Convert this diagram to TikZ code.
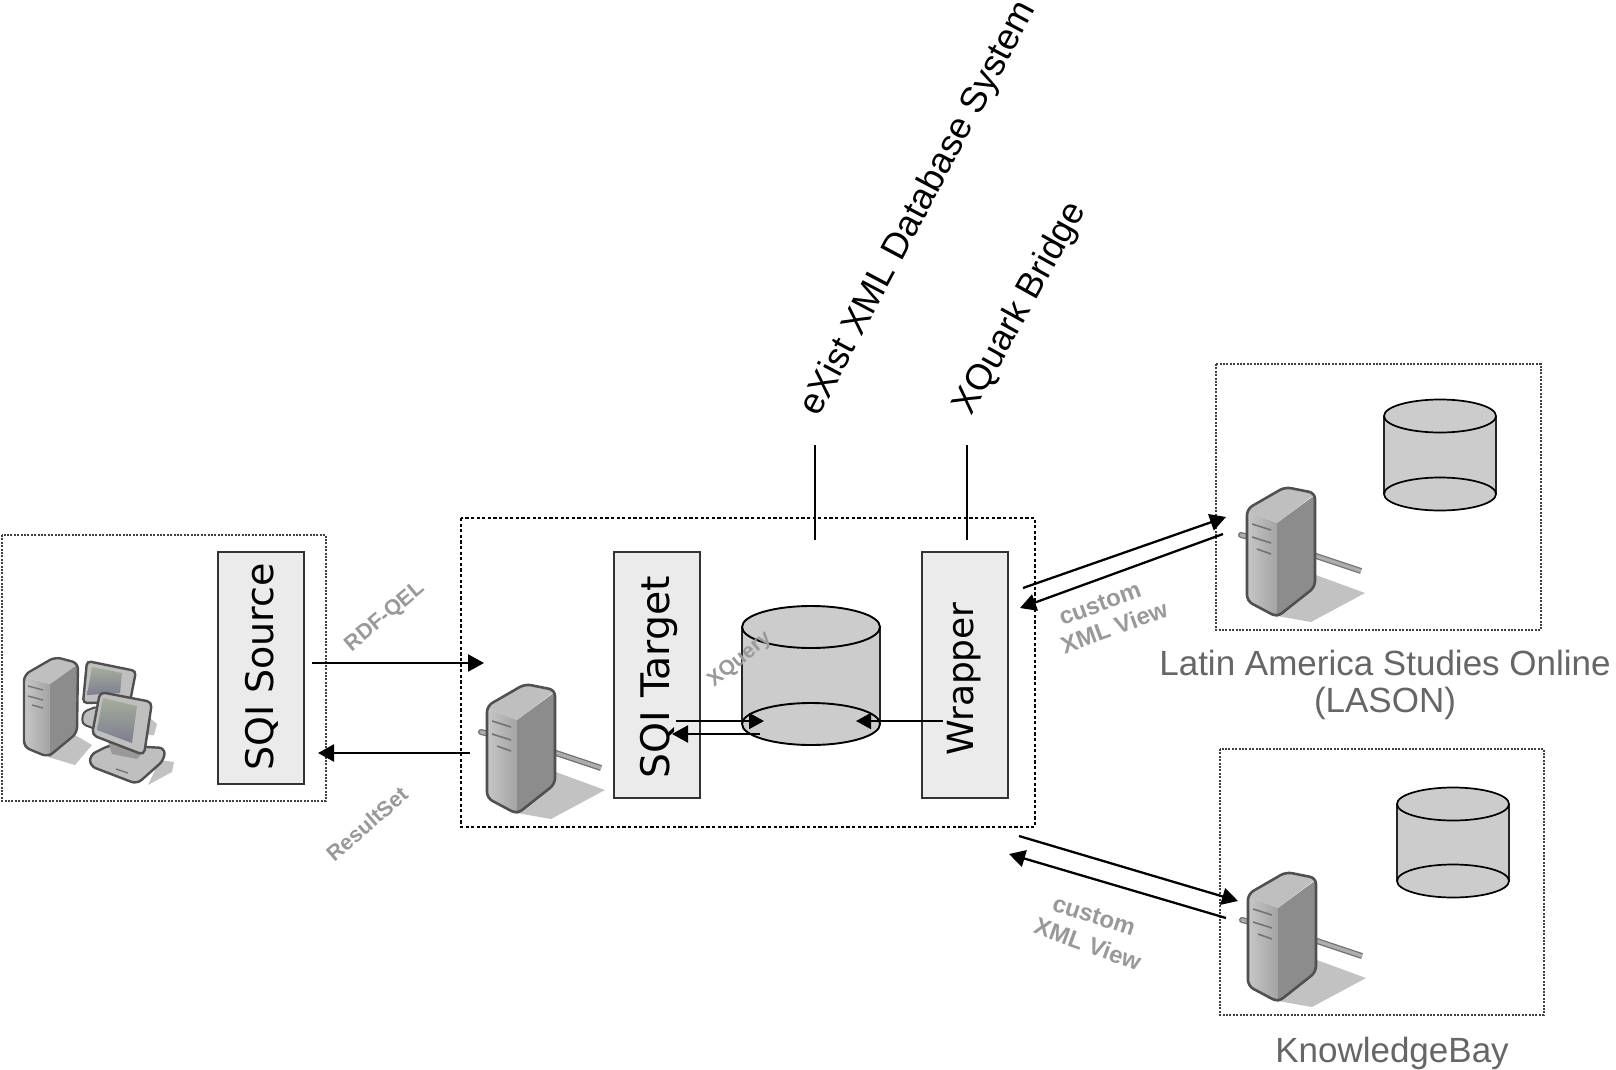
\documentclass[tikz,border=0pt]{standalone}
\usepackage{fontspec}
\setmainfont{Liberation Sans}
\newfontfamily\boxfont{DejaVu Sans}
\usetikzlibrary{arrows.meta}
\definecolor{panelfill}{HTML}{EBEBEB}
\definecolor{cylfill}{HTML}{CCCCCC}
\definecolor{edgegray}{HTML}{505050}
\definecolor{labelgray}{HTML}{999999}
\definecolor{captiongray}{HTML}{666666}
\definecolor{shadowgray}{HTML}{C2C2C2}
\definecolor{screendark}{HTML}{7E7E90}
\definecolor{screenlight}{HTML}{A5AD9C}
\tikzset{
  x=0.5pt,y=-0.5pt,
  thinzone/.style={draw=black!75,line width=0.75pt,dash pattern=on 1pt off 0.7pt},
  boldzone/.style={draw=black,line width=1.1pt,dash pattern=on 1.6pt off 1.2pt},
  panel/.style={draw=black!80,line width=1.3pt,fill=panelfill,inner sep=0pt},
  paneltext/.style={font=\boxfont\fontsize{19}{20}\selectfont,rotate=90,inner sep=0pt},
  flow/.style={draw=black,line width=1.15pt,-{Triangle[length=8pt,width=8.5pt]}},
  flowthin/.style={draw=black,line width=0.9pt,-{Triangle[length=7.5pt,width=8pt]}},
  stem/.style={draw=black,line width=1.35pt},
  tag/.style={font=\bfseries\fontsize{10.8}{12}\selectfont,text=labelgray,inner sep=0pt},
  viewtag/.style={tag,font=\bfseries\fontsize{12}{12}\selectfont},
  vtag/.style={font=\fontsize{18.2}{20}\selectfont,inner sep=0pt},
  caption/.style={font=\fontsize{17.5}{20}\selectfont,text=captiongray,inner sep=0pt},
  serverpic/.pic={
    \fill[shadowgray] (66,65) -- (118,84) -- (64,113) -- (30,107) -- cycle;
    \draw[line width=3pt,draw=edgegray!80] (66,46) -- (114,62);
    \draw[line width=1.7pt,draw=black!32] (66,46) -- (114,62);
    \draw[line width=3pt,draw=edgegray!80,line cap=round] (-6,26) -- (2,28);
    \draw[line width=1.7pt,draw=black!32,line cap=round] (-6,26) -- (2,28);
    \path[left color=black!22,right color=black!36] (0,2) -- (30,14) -- (30,108) -- (0,92) -- cycle;
    \path[fill=black!45] (30,14) -- (68,-14) -- (68,78) -- (30,108) -- cycle;
    \path[fill=black!25] (0,2) -- (38,-21) -- (68,-15) -- (30,14) -- cycle;
    \draw[edgegray,line width=1.3pt,rounded corners=3pt,line join=round]
      (0,0) -- (38,-22) -- (68,-16) -- (68,78) -- (30,108) -- (0,92) -- cycle;
    \draw[black!55,line width=0.8pt] (5,15) -- (24,21) (5,28) -- (24,34) (10,40) -- (24,45);
  },
}
\newcommand{\cylshape}[6]{% cx, top y, bottom y, rx, ry, line width
  \fill[cylfill] (#1-#4,#2) rectangle (#1+#4,#3);
  \draw[black!85,line width=0.8pt] (#1-#4,#2) -- (#1-#4,#3) (#1+#4,#2) -- (#1+#4,#3);
  \draw[black,fill=cylfill,line width=#6] (#1,#2) ellipse[x radius=#4,y radius=#5];
  \draw[black,fill=cylfill,line width=#6] (#1,#3) ellipse[x radius=#4,y radius=#5];
}
\begin{document}
\begin{tikzpicture}
\useasboundingbox (0,0) rectangle (1616,1070);
\fill[white] (0,0) rectangle (1616,1070);

% zones
\path[thinzone] (2,535) rectangle (326,801);
\path[boldzone] (461,518) rectangle (1035,827);
\path[thinzone] (1216,364) rectangle (1541,630);
\path[thinzone] (1220,749) rectangle (1544,1015);

% client computers
\fill[shadowgray] (75,735) -- (92,745) -- (75,765) -- (48,757) -- cycle;
\fill[shadowgray] (160,760) -- (174,762) -- (172,772) -- (148,785) -- cycle;
\fill[shadowgray] (150,718) -- (157,724) -- (154,735) -- (145,735) -- cycle;
\path[left color=black!22,right color=black!36] (24,677) -- (50,684) -- (50,757) -- (24,747) -- cycle;
\fill[black!45] (50,684) -- (78,664) -- (77,733) -- (50,757) -- cycle;
\fill[black!25] (24,677) -- (55,658) -- (78,664) -- (50,684) -- cycle;
\draw[edgegray,line width=1.2pt,rounded corners=3pt,line join=round]
  (24,675) -- (55,657) -- (78,663) -- (77,733) -- (48,757) -- (24,747) -- cycle;
\draw[black!55,line width=0.7pt] (28,686) -- (43,690) (28,696) -- (43,700) (32,705) -- (43,708);
% rear monitor
\draw[edgegray,fill=black!25,line width=1pt,rounded corners=2pt] (83,712) -- (98,706) -- (98,730) -- (82,724) -- cycle;
\draw[edgegray,fill=black!25,line width=1.2pt,rounded corners=2pt] (87,661) -- (136,671) -- (130,702) -- (83,703) -- cycle;
\path[top color=screenlight,bottom color=screendark] (92,667) -- (122,673) -- (120,693) -- (87,695) -- cycle;
% front monitor
\draw[edgegray,fill=black!25,line width=1.2pt,rounded corners=3pt] (90,755) -- (110,745) -- (165,748) -- (164,760) -- (137,784) -- (90,766) -- cycle;
\fill[black!40] (108,741) -- (143,752) -- (137,759) -- (112,754) -- cycle;
\draw[edgegray,fill=black!25,line width=1.2pt,rounded corners=2.5pt] (100,692) -- (152,702) -- (144,755) -- (92,735) -- cycle;
\path[top color=screenlight,bottom color=screendark] (103,698) -- (137,706) -- (132,743) -- (97,730) -- cycle;
\draw[black!55,line width=0.7pt] (116,769) -- (128,773);

% servers
\pic at (487,706) {serverpic};
\pic at (1247,509) {serverpic};
\pic at (1248,894) {serverpic};

% databases
\cylshape{811}{627}{724}{69}{21}{0.95pt}
\cylshape{1440}{416}{494}{56}{16.5}{0.85pt}
\cylshape{1453}{804}{881}{56}{16.5}{0.85pt}

% panels
\node[panel,minimum width=43pt,minimum height=116pt] (source) at (261,668) {};
\node[paneltext] (sourcetext) at (262,667) {SQI Source};
\node[panel,minimum width=43pt,minimum height=123pt] (target) at (657,675) {};
\node[paneltext,font=\boxfont\fontsize{19.7}{22}\selectfont] (targettext) at (659,677) {SQI Target};
\node[panel,minimum width=43pt,minimum height=123pt] (wrapper) at (965,675) {};
\node[paneltext,font=\boxfont\fontsize{18}{20}\selectfont] (wrappertext) at (964,679) {Wrapper};

% vertical stems
\coordinate (existend) at (815,445);
\coordinate (existbox) at (815,540);
\coordinate (xquarkend) at (967,445);
\coordinate (xquarkbox) at (967,540);
\draw[stem] (existend) -- (existbox);
\draw[stem] (xquarkend) -- (xquarkbox);

% connector ends
\coordinate (rdfa) at (312,663);
\coordinate (rdfb) at (484,663);
\coordinate (resa) at (470,753);
\coordinate (resb) at (318,753);
\coordinate (qa) at (676,721);
\coordinate (qb) at (764,721);
\coordinate (wa) at (943,721);
\coordinate (wb) at (856,721);
\coordinate (ra) at (760,734);
\coordinate (rb) at (672,734);
\coordinate (la) at (1023,588);
\coordinate (lb) at (1226,517);
\coordinate (lc) at (1223,534);
\coordinate (ld) at (1020,608);
\coordinate (ka) at (1019,836);
\coordinate (kb) at (1238,901);
\coordinate (kc) at (1226,918);
\coordinate (kd) at (1009,854);
\draw[flow] (rdfa) -- (rdfb);
\draw[flow] (resa) -- (resb);
\draw[flowthin] (qa) -- (qb);
\draw[flowthin] (wa) -- (wb);
\draw[flow] (ra) -- (rb);
\draw[flow] (la) -- (lb);
\draw[flow] (lc) -- (ld);
\draw[flow] (ka) -- (kb);
\draw[flow] (kc) -- (kd);

% labels
\node[vtag,rotate=62] (exist) at (919,209) {eXist XML Database System};
\node[vtag,rotate=61,font=\fontsize{18}{20}\selectfont] (xquark) at (1021,309) {XQuark Bridge};
\node[tag,rotate=40] (rdfqel) at (385,617) {RDF-QEL};
\node[tag,rotate=41] (resultset) at (367,824) {ResultSet};
\node[tag,rotate=39,font=\bfseries\fontsize{10.5}{12}\selectfont] (xquery) at (740,660) {XQuery};
\node[viewtag,rotate=20] (c1) at (1100,604) {custom};
\node[viewtag,rotate=20] (c2) at (1114,627) {XML View};
\node[viewtag,rotate=-18] (c3) at (1094,916) {custom};
\node[viewtag,rotate=-20] (c4) at (1088,944) {XML View};
\node[caption] (lason1) at (1385,663) {Latin America Studies Online};
\node[caption] (lason2) at (1385,703) {(LASON)};
\node[caption] (knowledge) at (1392,1053) {KnowledgeBay};
\end{tikzpicture}
\end{document}
